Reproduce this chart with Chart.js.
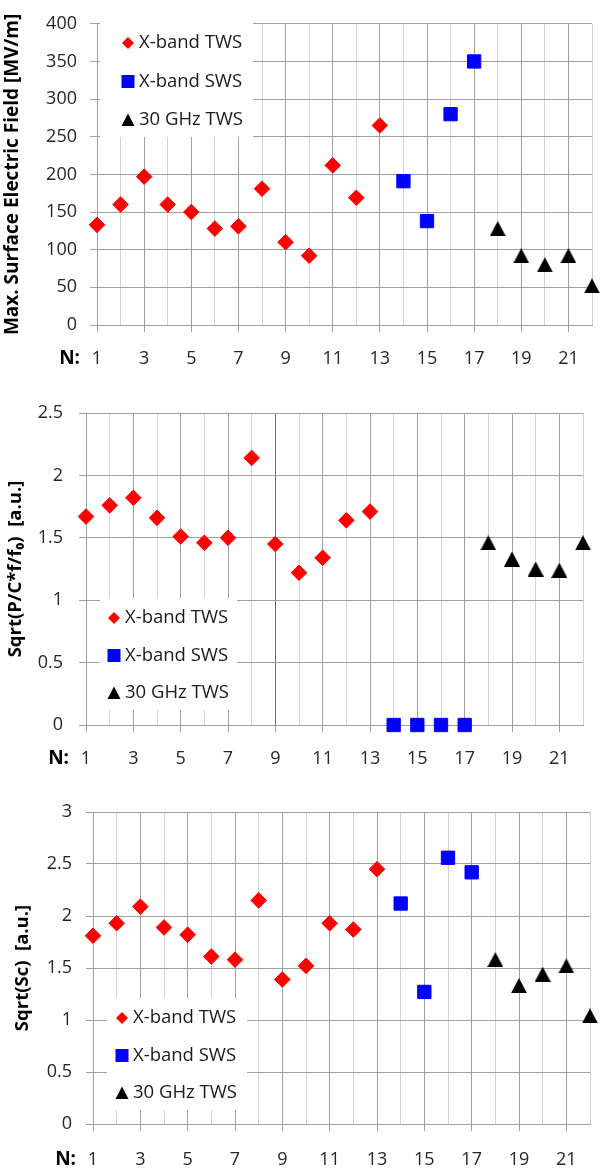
<!DOCTYPE html>
<html><head><meta charset="utf-8">
<script src="https://cdn.jsdelivr.net/npm/chart.js@4"></script>
<style>
html,body{margin:0;padding:0;background:#fff;width:608px;height:1172px;overflow:hidden}
canvas{position:absolute;left:0}
</style></head><body>
<canvas id="c1" width="608" height="375" style="top:0px"></canvas>
<canvas id="c2" width="608" height="395" style="top:380px"></canvas>
<canvas id="c3" width="608" height="397" style="top:775px"></canvas>
<script>
// ---- data ----
const seriesNames = ['X-band TWS', 'X-band SWS', '30 GHz TWS'];
const nXTWS = [1,2,3,4,5,6,7,8,9,10,11,12,13];
const nXSWS = [14,15,16,17];
const n30 = [18,19,20,21,22];
const nGrid = [1,2,3,4,5,6,7,8,9,10,11,12,13,14,15,16,17,18,19,20,21,22];
const xTickLabels = [1,3,5,7,9,11,13,15,17,19,21];

// panel 1: Max. surface electric field [MV/m]
const fieldXTWS = [133,160,197,160,150,128,131,181,110,92,212,169,265];
const fieldXSWS = [191,138,280,350];
const field30 = [128,92,80,92,52];
const yTicks1 = [0,50,100,150,200,250,300,350,400];

// panel 2: Sqrt(P/C*f/f0)
const pcXTWS = [1.67,1.76,1.82,1.66,1.51,1.46,1.50,2.14,1.45,1.22,1.34,1.64,1.71];
const pcXSWS = [0,0,0,0];
const pc30 = [1.46,1.33,1.25,1.24,1.46];
const yTicks2 = [0,0.5,1,1.5,2,2.5];

// panel 3: Sqrt(Sc)
const scXTWS = [1.81,1.93,2.09,1.89,1.82,1.61,1.58,2.15,1.39,1.52,1.93,1.87,2.45];
const scXSWS = [2.12,1.27,2.56,2.42];
const sc30 = [1.58,1.33,1.44,1.52,1.04];
const yTicks3 = [0,0.5,1,1.5,2,2.5,3];

// ---- drawing ----
Chart.defaults.font.family = "'Open Sans', 'Noto Sans', sans-serif";
const FONT = "'Open Sans', 'Noto Sans', sans-serif";
const MAJOR = '#a0a0a0', MINOR = '#d2d2d2';
const TICK_SIZE = 18;

function triImg(w, h) {
  const c = document.createElement('canvas');
  c.width = w; c.height = h;
  const g = c.getContext('2d');
  g.fillStyle = '#000';
  g.beginPath(); g.moveTo(w / 2, 0); g.lineTo(w, h); g.lineTo(0, h); g.closePath(); g.fill();
  return c;
}
const triData = triImg(16, 15);

function pts(xs, ys) { return xs.map((x, i) => ({x: x, y: ys[i]})); }

function drawLegendMarker(ctx, shape, x, y) {
  ctx.beginPath();
  if (shape === 'diamond') {
    ctx.fillStyle = '#ff0000';
    ctx.moveTo(x, y - 6); ctx.lineTo(x + 6, y); ctx.lineTo(x, y + 6); ctx.lineTo(x - 6, y);
  } else if (shape === 'square') {
    ctx.fillStyle = '#0000ff';
    ctx.rect(x - 6.5, y - 6.5, 13, 13);
  } else {
    ctx.fillStyle = '#000000';
    ctx.moveTo(x, y - 6.5); ctx.lineTo(x + 6.5, y + 6); ctx.lineTo(x - 6.5, y + 6);
  }
  ctx.closePath(); ctx.fill();
}

const boxLegend = {
  id: 'boxLegend',
  beforeDatasetsDraw(chart, args, o) {
    const ctx = chart.ctx;
    ctx.save();
    ctx.fillStyle = '#ffffff';
    ctx.fillRect(o.x, o.y, o.w, o.h);
    chart.data.datasets.forEach((ds, i) => {
      const cy = o.y0 + i * o.dy;
      drawLegendMarker(ctx, ds.legendShape, o.mx, cy);
      ctx.fillStyle = '#1a1a1a';
      ctx.font = o.size + 'px ' + FONT;
      ctx.textAlign = 'left'; ctx.textBaseline = 'middle';
      ctx.fillText(ds.label, o.tx, cy);
    });
    ctx.restore();
  }
};

const nLabel = {
  id: 'nLabel',
  afterDraw(chart, args, o) {
    const xs = chart.scales.x;
    const ctx = chart.ctx;
    ctx.save();
    ctx.fillStyle = '#000';
    ctx.font = 'bold ' + o.size + 'px ' + FONT;
    ctx.textAlign = 'right'; ctx.textBaseline = 'middle';
    ctx.fillText(o.text, xs.getPixelForValue(1) - o.gap, xs.top + o.dy);
    ctx.restore();
  }
};

function makeChart(id, c) {
  return new Chart(document.getElementById(id), {
    type: 'scatter',
    data: {datasets: [
      {label: seriesNames[0], data: pts(nXTWS, c.v[0]), pointStyle: 'rectRot', pointRadius: 7.8,
       backgroundColor: '#ff0000', borderColor: '#ff0000', borderWidth: 1, legendShape: 'diamond', clip: false},
      {label: seriesNames[1], data: pts(nXSWS, c.v[1]), pointStyle: 'rect', pointRadius: 9.4,
       backgroundColor: '#0000ff', borderColor: '#0000ff', borderWidth: 1, legendShape: 'square', clip: false},
      {label: seriesNames[2], data: pts(n30, c.v[2]), pointStyle: triData, pointRadius: 8,
       backgroundColor: '#000', borderColor: '#000', borderWidth: 0, legendShape: 'triangle', clip: false}
    ]},
    options: {
      responsive: false, animation: false, events: [],
      layout: {padding: c.pad},
      plugins: {legend: {display: false}, tooltip: {enabled: false}, boxLegend: c.legend,
                nLabel: {text: 'N:', size: 19, gap: 17, dy: c.xpad + 7 + TICK_SIZE * 0.6}},
      scales: {
        x: {
          type: 'linear', min: 1, max: 22,
          afterBuildTicks: s => { s.ticks = nGrid.map(v => ({value: v})); },
          afterFit: s => { s.height = c.xh; },
          ticks: {autoSkip: false, maxRotation: 0, padding: c.xpad, color: '#262626', font: {size: TICK_SIZE},
                  callback: v => xTickLabels.includes(v) ? String(v) : ''},
          grid: {
            color: ctx => {
              const v = ctx.tick ? ctx.tick.value : 0;
              if (c.darkN && v === c.darkN) return '#6e6e6e';
              return v % 2 === 1 ? MAJOR : MINOR;
            },
            tickColor: ctx => (ctx.tick && ctx.tick.value % 2 === 1) ? MAJOR : 'rgba(0,0,0,0)',
            tickLength: 7, lineWidth: 1
          },
          border: {color: MAJOR}
        },
        y: {
          min: 0, max: c.yt[c.yt.length - 1],
          afterBuildTicks: s => { s.ticks = c.yt.map(v => ({value: v})); },
          afterFit: s => { s.width = c.yw; },
          ticks: {padding: c.ypad, color: '#262626', font: {size: TICK_SIZE}, callback: v => String(v)},
          grid: {color: MAJOR, tickColor: MAJOR, tickLength: 7},
          border: {color: MAJOR},
          title: {display: true, text: c.title, color: '#000',
                  font: {size: c.tsize, weight: 'bold'}, padding: {top: c.tpad, bottom: 0}}
        }
      }
    },
    plugins: [boxLegend, nLabel]
  });
}

makeChart('c1', {
  v: [fieldXTWS, fieldXSWS, field30], yt: yTicks1,
  pad: {top: 13, right: 4, bottom: 0, left: 0}, yw: 97, xh: 50, xpad: 16, ypad: 13,
  title: 'Max. Surface Electric Field [MV/m]', tsize: 19, tpad: 1,
  legend: {x: 100, y: 23, w: 153, h: 114, mx: 128, y0: 43, dy: 38.5, tx: 139, size: 18.5}
});
makeChart('c2', {
  v: [pcXTWS, pcXSWS, pc30], yt: yTicks2, darkN: 9,
  pad: {top: 33, right: 25, bottom: 0, left: 0}, yw: 86, xh: 50, xpad: 16, ypad: 16,
  title: 'Sqrt(P/C*f/f\u2080)  [a.u.]', tsize: 18.5, tpad: 4.5,
  legend: {x: 100, y: 218, w: 137, h: 112, mx: 114, y0: 238, dy: 37.5, tx: 125, size: 18.5}
});
makeChart('c3', {
  v: [scXTWS, scXSWS, sc30], yt: yTicks3,
  pad: {top: 37, right: 11, bottom: 0, left: 0}, yw: 93, xh: 48, xpad: 18, ypad: 14,
  title: 'Sqrt(Sc)  [a.u.]', tsize: 18.5, tpad: 11.5,
  legend: {x: 107, y: 223, w: 140, h: 112, mx: 122, y0: 243, dy: 37.5, tx: 133, size: 18.5}
});
</script>
</body></html>
